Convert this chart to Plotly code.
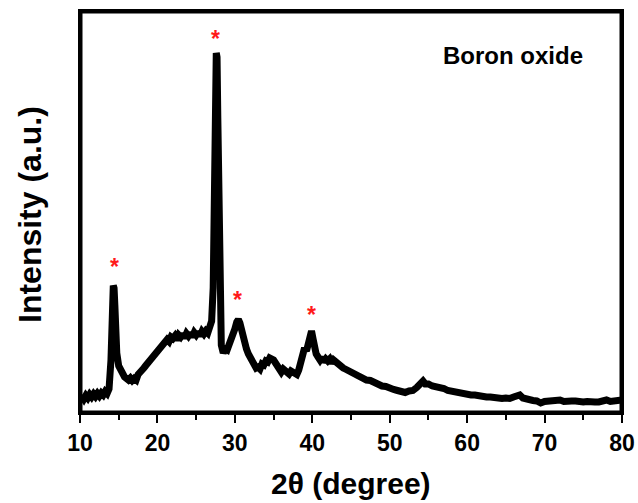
import plotly.graph_objects as go

# 2-theta positions (degree)
two_theta = [10.0, 10.25, 10.5, 10.75, 11.0, 11.25, 11.5, 11.75, 12.0, 12.25,
             12.5, 12.75, 13.0, 13.25, 13.5, 13.75,
             14.0, 14.1, 14.2, 14.3, 14.4, 14.5, 14.6, 14.75, 15.0, 15.25,
             15.5, 15.75, 16.0, 16.25, 16.5, 16.75, 17.0, 17.25, 17.5, 17.75,
             18.0, 18.25, 18.5, 18.75, 19.0, 19.25, 19.5, 19.75, 20.0, 20.25,
             20.5, 20.75, 21.0, 21.25, 21.5, 21.75, 22.0, 22.25, 22.5, 22.75,
             23.0, 23.25, 23.5, 23.75, 24.0, 24.25, 24.5, 24.75, 25.0, 25.25,
             25.5, 25.75, 26.0, 26.25, 26.5, 26.75,
             27.0, 27.2, 27.35, 27.5, 27.6, 27.7, 27.8, 27.95, 28.1, 28.25,
             28.5, 28.75, 29.0, 29.25, 29.5, 29.75, 30.0, 30.25, 30.45, 30.65,
             30.85, 31.0, 31.25, 31.5, 31.75, 32.0, 32.25, 32.5, 32.75, 33.0,
             33.25, 33.5, 33.75, 34.0, 34.25, 34.5, 34.75, 35.0, 35.25, 35.5,
             35.75, 36.0, 36.25, 36.5, 36.75, 37.0, 37.25, 37.5, 37.75, 38.0,
             38.25, 38.5, 38.75, 39.0, 39.25, 39.5, 39.75, 39.9, 40.1, 40.3,
             40.5, 40.75, 41.0, 41.25, 41.5, 41.75, 42.0, 42.25, 42.5, 42.75,
             43.0, 43.25, 43.5, 43.75, 44.0, 44.25, 44.5, 44.75, 45.0,
             45.5, 46.0, 46.5, 47.0, 47.5, 48.0, 48.5, 49.0, 49.5, 50.0,
             50.5, 51.0, 51.5, 52.0, 52.5, 53.0, 53.5, 54.0, 54.3, 54.6,
             55.0, 55.5, 56.0, 56.5, 57.0, 57.5, 58.0, 58.5, 59.0, 59.5,
             60.0, 60.5, 61.0, 61.5, 62.0, 62.5, 63.0, 63.5, 64.0, 64.5,
             65.0, 65.5, 66.0, 66.5, 66.8, 67.2, 67.5, 68.0, 68.5, 69.0,
             69.5, 70.0, 70.5, 71.0, 71.5, 72.0, 72.5, 73.0, 73.5, 74.0,
             74.5, 75.0, 75.5, 76.0, 76.5, 77.0, 77.5, 78.0, 78.5, 79.0,
             79.5, 80.0]

# intensity (a.u.)
intensity = [130, 170, 140, 175, 150, 185, 160, 190, 165, 195,
             170, 200, 180, 215, 195, 240,
             530, 850, 1130, 1275, 1250, 1080, 850, 600, 470, 420,
             390, 360, 345, 330, 350, 325, 345, 330, 385, 400,
             430, 450, 475, 500, 525, 550, 565, 595, 605, 640,
             650, 690, 700, 735, 715, 760, 745, 770, 730, 780,
             760, 790, 750, 795, 770, 800, 760, 805, 780, 810,
             770, 815, 790, 820, 800, 840,
             920, 1250, 1950, 3050, 3600, 3560, 2950, 1700, 950, 680,
             600, 640, 630, 680, 700, 770, 840, 910, 935, 900,
             820, 760, 700, 640, 590, 560, 510, 480, 450, 460,
             440, 490, 480, 520, 510, 550, 540, 530, 500, 470,
             430, 410, 440, 420, 400, 390, 420, 400, 380, 385,
             430, 520, 640, 650, 620, 700, 770, 820, 740, 650,
             590, 560, 530, 560, 510, 540, 520, 540, 500, 530,
             510, 490, 480, 460, 450, 440, 430, 410, 400,
             390, 360, 355, 330, 325, 300, 295, 270, 265, 240,
             235, 225, 215, 205, 220, 225, 255, 310, 320, 290,
             290, 270, 265, 250, 245, 225, 215, 205, 200, 190,
             185, 180, 180, 170, 170, 160, 160, 150, 150, 145,
             150, 145, 160, 175, 180, 150, 140, 130, 125, 120,
             100, 115, 120, 120, 125, 130, 115, 110, 120, 120,
             110, 110, 115, 120, 110, 110, 120, 130, 115, 120,
             125, 130]

# peak markers
peak_x = [14.45, 27.55, 30.4, 39.95]
peak_star_y = [1480, 3760, 1150, 1000]

x_range = [10, 80]
y_range = [0, 4020]
x_ticks = [10, 20, 30, 40, 50, 60, 70, 80]
x_minor_ticks = [15, 25, 35, 45, 55, 65, 75]
sample_label = "Boron oxide"

fig = go.Figure()
fig.add_trace(go.Scatter(x=two_theta, y=intensity, mode="lines",
                         line=dict(color="black", width=7),
                         showlegend=False, hoverinfo="skip"))

# plot frame as a closed path along the axis limits (drawn on top of the data)
fig.add_trace(go.Scatter(x=[x_range[0], x_range[1], x_range[1], x_range[0], x_range[0]],
                         y=[y_range[0], y_range[0], y_range[1], y_range[1], y_range[0]],
                         mode="lines", line=dict(color="black", width=5),
                         showlegend=False, hoverinfo="skip"))

# frame also as thin filled bars on each side of the plotting area
hx = 1.5 / 542
hy = 1.5 / 402
frame_bars = [(-hx, -hy, 1 + hx, hy), (-hx, 1 - hy, 1 + hx, 1 + hy),
              (-hx, -hy, hx, 1 + hy), (1 - hx, -hy, 1 + hx, 1 + hy)]
for bx0, by0, bx1, by1 in frame_bars:
    fig.add_shape(type="rect", xref="paper", yref="paper",
                  x0=bx0, y0=by0, x1=bx1, y1=by1,
                  fillcolor="black", line=dict(width=0), layer="above")

for px, py in zip(peak_x, peak_star_y):
    fig.add_annotation(x=px, y=py, xref="x", yref="y", text="<b>*</b>",
                       showarrow=False, xanchor="center", yanchor="middle", yshift=-2,
                       font=dict(family="Liberation Sans", size=23, color="#ff1a1a"))

fig.add_annotation(x=0.799, y=0.8905, xref="paper", yref="paper",
                   xanchor="center", yanchor="middle",
                   text="<b>" + sample_label + "</b>", showarrow=False,
                   font=dict(family="Liberation Sans", size=24, color="black"))

fig.add_annotation(x=0, y=0.5, xref="paper", yref="paper", xshift=-50, yshift=-3,
                   xanchor="center", yanchor="middle",
                   text="<b>Intensity (a.u.)</b>", textangle=-90, showarrow=False,
                   font=dict(family="Liberation Sans", size=32, color="black"))

fig.add_annotation(x=0.5, y=0, xref="paper", yref="paper", yshift=-70,
                   xanchor="center", yanchor="middle",
                   text="<b>2θ (degree)</b>", showarrow=False,
                   font=dict(family="Liberation Sans", size=30, color="black"))

fig.update_layout(
    width=638, height=503,
    margin=dict(l=80, r=16, t=11, b=90, autoexpand=False),
    paper_bgcolor="white", plot_bgcolor="white",
    xaxis=dict(range=x_range, tickmode="array", tickvals=x_ticks, automargin=False,
               ticks="outside", ticklen=8, tickwidth=2, tickcolor="black",
               showline=True, linewidth=2, linecolor="black", mirror=True,
               showgrid=False, zeroline=False,
               tickfont=dict(family="Liberation Sans", size=23, color="black", weight="bold"),
               minor=dict(tickvals=x_minor_ticks, ticks="outside",
                          ticklen=5, tickwidth=2, tickcolor="black")),
    yaxis=dict(range=y_range, showticklabels=False, ticks="", automargin=False,
               showline=True, linewidth=2, linecolor="black", mirror=True,
               showgrid=False, zeroline=False),
)

fig.write_html("out.html")
